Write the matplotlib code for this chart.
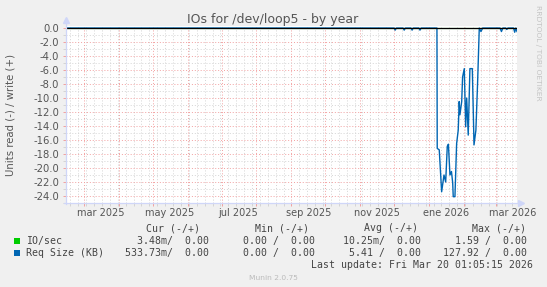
import numpy as np
import matplotlib.pyplot as plt
import matplotlib.dates as mdates
from matplotlib.lines import Line2D
from matplotlib.patches import Rectangle

W, H = 547, 287

start = np.datetime64('2025-02-13T01:05')
end = np.datetime64('2026-03-20T01:05')

# Req Size (KB), read side (drawn negative)
req_dates = [
    '2025-02-13 01:05', '2025-12-01 00:00', '2025-12-02 00:00', '2025-12-03 00:00',
    '2025-12-09 00:00', '2025-12-10 00:00', '2025-12-11 00:00',
    '2025-12-16 00:00', '2025-12-17 00:00', '2025-12-18 00:00',
    '2025-12-23 00:00', '2025-12-24 00:00', '2025-12-25 00:00',
    '2026-01-08 01:00', '2026-01-08 07:00', '2026-01-10 02:00', '2026-01-12 05:00',
    '2026-01-14 07:00', '2026-01-15 19:00', '2026-01-17 05:00', '2026-01-18 05:00',
    '2026-01-19 14:00', '2026-01-20 22:00', '2026-01-22 00:00', '2026-01-22 12:00',
    '2026-01-24 00:00', '2026-01-25 12:00', '2026-01-26 22:00', '2026-01-27 19:00',
    '2026-01-28 10:00', '2026-01-30 00:00', '2026-01-30 19:00', '2026-02-01 07:00',
    '2026-02-02 12:00', '2026-02-03 10:00', '2026-02-04 19:00', '2026-02-06 07:00',
    '2026-02-08 10:00', '2026-02-09 22:00', '2026-02-11 14:00', '2026-02-13 02:00',
    '2026-02-14 14:00', '2026-02-16 02:00', '2026-02-17 14:00',
    '2026-03-05 00:00', '2026-03-06 06:00', '2026-03-07 12:00',
    '2026-03-10 00:00', '2026-03-11 00:00', '2026-03-12 00:00',
    '2026-03-17 00:00', '2026-03-18 00:00', '2026-03-19 00:00', '2026-03-20 01:05',
]
req_read = [
    0, 0, -0.3, 0,
    0, -0.3, 0,
    0, -0.3, 0,
    0, -0.3, 0,
    0, -17.2, -17.4, -23.4,
    -21.0, -22.0, -16.9, -16.6,
    -21.0, -20.5, -22.1, -24.1,
    -24.1, -16.5, -14.6, -10.5,
    -12.4, -10.5, -7.0, -5.8,
    -14.1, -10.0, -15.3, -5.8,
    -5.8, -16.7, -14.6, -7.9,
    0, -0.5, 0,
    0, -0.5, 0,
    0, -0.2, 0,
    0, -0.6, 0, -0.5,
]

# IO/sec, read side (drawn negative)
io_dates = ['2025-02-13 01:05', '2026-03-20 01:05']
io_read = [0, 0]

y_ticks = list(range(-24, 1, 2))
x_label_dates = ['2025-03-16', '2025-05-16', '2025-07-16', '2025-09-16',
                 '2025-11-16', '2026-01-16', '2026-03-16']
x_labels = ['mar 2025', 'may 2025', 'jul 2025', 'sep 2025',
            'nov 2025', 'ene 2026', 'mar 2026']

legend_names = ['IO/sec', 'Req Size (KB)']
legend_colors = ['#00CC00', '#0066B3']
legend_cur = ['3.48m/  0.00', '533.73m/  0.00']
legend_min = ['0.00 /  0.00', '0.00 /  0.00']
legend_avg = ['10.25m/  0.00', '5.41 /  0.00']
legend_max = ['1.59 /  0.00', '127.92 /  0.00']


def fx(x):
    return x / W


def fy(y):
    return 1 - y / H


fig = plt.figure(figsize=(W / 100, H / 100), dpi=100, facecolor='#F0F0F0')
left, right, top, bottom = 66, 517, 26, 203
ax = fig.add_axes([fx(left), fy(bottom), (right - left) / W, (bottom - top) / H])
ax.set_facecolor('white')

ax.set_xlim(start, end)
ax.set_ylim(-25.0, 0.29)

for s in ax.spines.values():
    s.set_visible(False)

# grid
ax.xaxis.set_major_locator(mdates.MonthLocator())
ax.xaxis.set_minor_locator(mdates.WeekdayLocator(byweekday=mdates.MO))
ax.set_yticks(y_ticks)
ax.set_yticks(range(-25, 1), minor=True)
ax.set_yticklabels([f'{v:.1f}' for v in y_ticks])
ax.set_xticklabels([])
ax.grid(which='minor', color='#D4D4D4', linestyle=(0, (1, 2)), linewidth=0.7)
ax.grid(which='major', color='#F2A0A0', linestyle=(0, (1, 2)), linewidth=0.7)
ax.tick_params(which='major', length=2, width=0.7, color='#F2A0A0',
               labelsize=7.2, labelcolor='#555555', pad=3)
ax.tick_params(which='minor', length=2, width=0.7, color='#D4D4D4')
ax.set_axisbelow(True)

for d, lab in zip(x_label_dates, x_labels):
    ax.text(np.datetime64(d), -0.055, lab, transform=ax.get_xaxis_transform(),
            ha='center', va='center', fontsize=7.0, color='#555555')

ax.plot(np.array(io_dates, dtype='datetime64[m]'), io_read, color='#00CC00', lw=0.8)
ax.plot(np.array(req_dates, dtype='datetime64[m]'), req_read, color='#0066B3', lw=1.0)
ax.axhline(0, color='black', lw=0.9, zorder=5)

# axes lines with arrows
axis_col = '#CFD6F8'
fig.add_artist(Line2D([fx(left), fx(left)], [fy(bottom + 1), fy(20)], color=axis_col, lw=0.9))
fig.add_artist(Line2D([fx(left - 2), fx(521)], [fy(bottom), fy(bottom)], color=axis_col, lw=0.9))
fig.add_artist(Line2D([fx(left)], [fy(20)], marker='^', markersize=4, color=axis_col, lw=0))
fig.add_artist(Line2D([fx(521)], [fy(bottom)], marker='>', markersize=4, color=axis_col, lw=0))

# texts
fig.text(fx(273), fy(20), 'IOs for /dev/loop5 - by year', ha='center', va='center',
         fontsize=9, color='#555555')
fig.text(fx(10.5), fy(115), 'Units read (-) / write (+)', rotation=90, ha='center',
         va='center', fontsize=7.3, color='#555555')
fig.text(fx(538), fy(53), 'RRDTOOL / TOBI OETIKER', rotation=270, ha='center',
         va='center', fontsize=5.4, color='#C4C4C4')

mono = dict(family='DejaVu Sans Mono', fontsize=7.1, color='#444444', va='center')
hy = 228.3
for xr, lab in zip([200, 308.8, 417.7, 526.2],
                   ['Cur (-/+)', 'Min (-/+)', 'Avg (-/+)', 'Max (-/+)']):
    fig.text(fx(xr), fy(hy), lab, ha='right', **mono)

for i, yy in enumerate([240.6, 253.0]):
    fig.add_artist(Rectangle((fx(14), fy(yy + 3)), 5.5 / W, 6 / H,
                             transform=fig.transFigure, facecolor=legend_colors[i],
                             edgecolor='none'))
    fig.text(fx(26), fy(yy), legend_names[i], ha='left', **mono)
    fig.text(fx(209.3), fy(yy), legend_cur[i], ha='right', **mono)
    fig.text(fx(315), fy(yy), legend_min[i], ha='right', **mono)
    fig.text(fx(421), fy(yy), legend_avg[i], ha='right', **mono)
    fig.text(fx(527), fy(yy), legend_max[i], ha='right', **mono)

fig.text(fx(532.8), fy(265.3), 'Last update: Fri Mar 20 01:05:15 2026', ha='right', **mono)
fig.text(fx(273), fy(277.5), 'Munin 2.0.75', ha='center', va='center',
         fontsize=5.4, color='#BBBBBB')

fig.savefig('out.png', dpi=100, facecolor=fig.get_facecolor())
